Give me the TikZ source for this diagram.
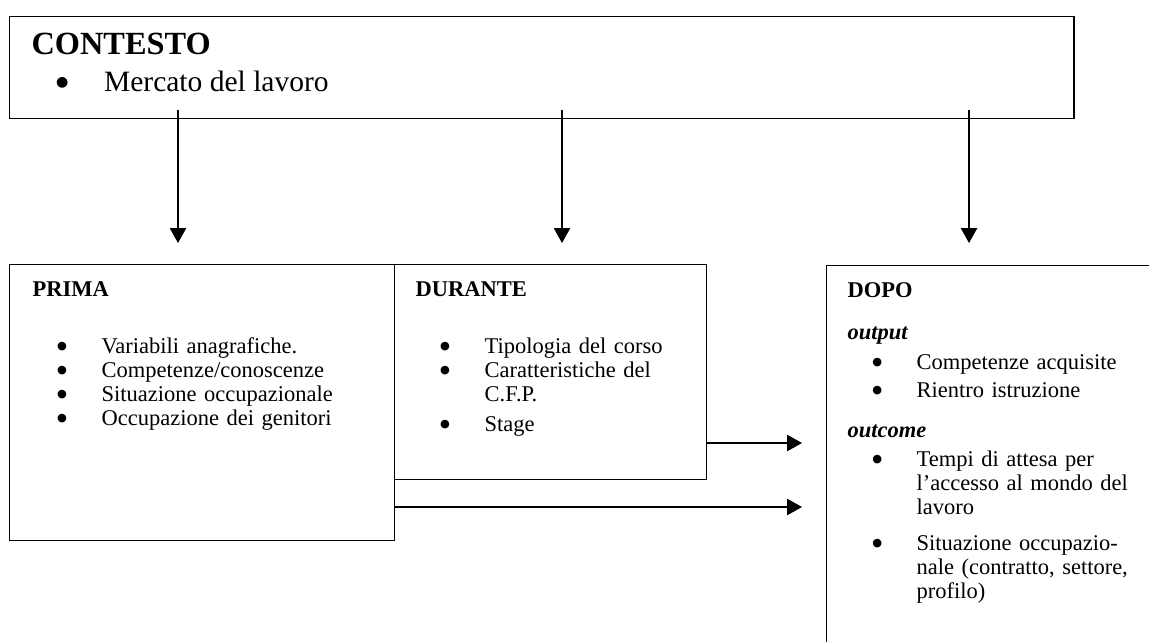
\documentclass[tikz,border=0pt]{standalone}
\usepackage{fontspec}
\setmainfont{Liberation Serif}
\newfontfamily\symfont{DejaVu Sans}
\usepackage{tikz}
\usetikzlibrary{arrows.meta,positioning}

% bullet and hanging indent for the list lines
\newcommand{\blt}{\raisebox{2.9pt}{\symfont\fontsize{8}{8}\selectfont ●}}
\newcommand{\bl}{\hspace*{17.5pt}\makebox[31.6pt][l]{\blt}}
\newcommand{\cn}{\hspace*{49.1pt}}

\begin{document}
\begin{tikzpicture}[x=0.025cm, y=-0.025cm, line width=0.9pt,
  >={Triangle[length=10.5pt,width=11.5pt]},
  frame/.style={draw, inner sep=0pt, anchor=north west},
  body/.style={anchor=base west, inner sep=0pt, text width=330pt, align=left, font=\fontsize{16}{17}\selectfont}]

\useasboundingbox (0,0) rectangle (1149,642);

% boxes
\node[frame, minimum width=26.6cm, minimum height=2.55cm] (contesto) at (9,16) {};
\node[frame, minimum width=9.625cm, minimum height=6.9cm] (prima) at (9,264) {};
\node[frame, minimum width=7.8cm, minimum height=5.375cm] (durante) at (394,264) {};
\begin{scope}
\clip (0,0) rectangle (1149,642);
\node[frame, minimum width=8.5cm, minimum height=10cm] (dopo) at (826,265) {};
\end{scope}

% texts
\node[anchor=base west, inner sep=0pt, font=\fontsize{23}{28}\selectfont\bfseries] (ctitle) at (31,55) {CONTESTO};
\node[anchor=base west, inner sep=0pt, font=\fontsize{21}{26}\selectfont] (citem) at (31,92) {\hspace*{17.5pt}\makebox[34pt][l]{\raisebox{3.6pt}{\symfont\fontsize{10}{10}\selectfont ●}}Mercato del lavoro};

\node[body] (primatxt) at (32,297) {\textbf{PRIMA}\\[23.5pt]
\bl Variabili anagrafiche.\\
\bl Competenze/conoscenze\\
\bl Situazione occupazionale\\
\bl Occupazione dei genitori};

\node[body] (durantetxt) at (415,297) {\textbf{DURANTE}\\[23.5pt]
\bl Tipologia del corso\\
\bl Caratteristiche del\\
\cn C.F.P.\\[4.3pt]
\bl Stage};

\node[body] (dopotxt) at (847,298) {\textbf{DOPO}\\[12.8pt]
\textbf{\textit{output}}\\[4.3pt]
\bl Competenze acquisite\\[2.8pt]
\bl Rientro istruzione\\[11.4pt]
\textbf{\textit{outcome}}\\[3.6pt]
\bl Tempi di attesa per\\
\cn l'accesso al mondo del\\
\cn lavoro\\[8.5pt]
\bl Situazione occupazio-\\
\cn nale (contratto, settore,\\
\cn profilo)};

% connectors
\foreach \n/\x in {a/178,b/562,c/969}{
  \coordinate (from\n) at (\x,110);
  \coordinate (to\n) at (\x,243);
  \draw[->] (from\n) -- (to\n);
}
\coordinate (inA) at (802,443);
\coordinate (inB) at (802,507);
\draw[->] (durante.east |- inA) -- (inA);
\draw[->] (prima.east |- inB) -- (inB);
\end{tikzpicture}
\end{document}
